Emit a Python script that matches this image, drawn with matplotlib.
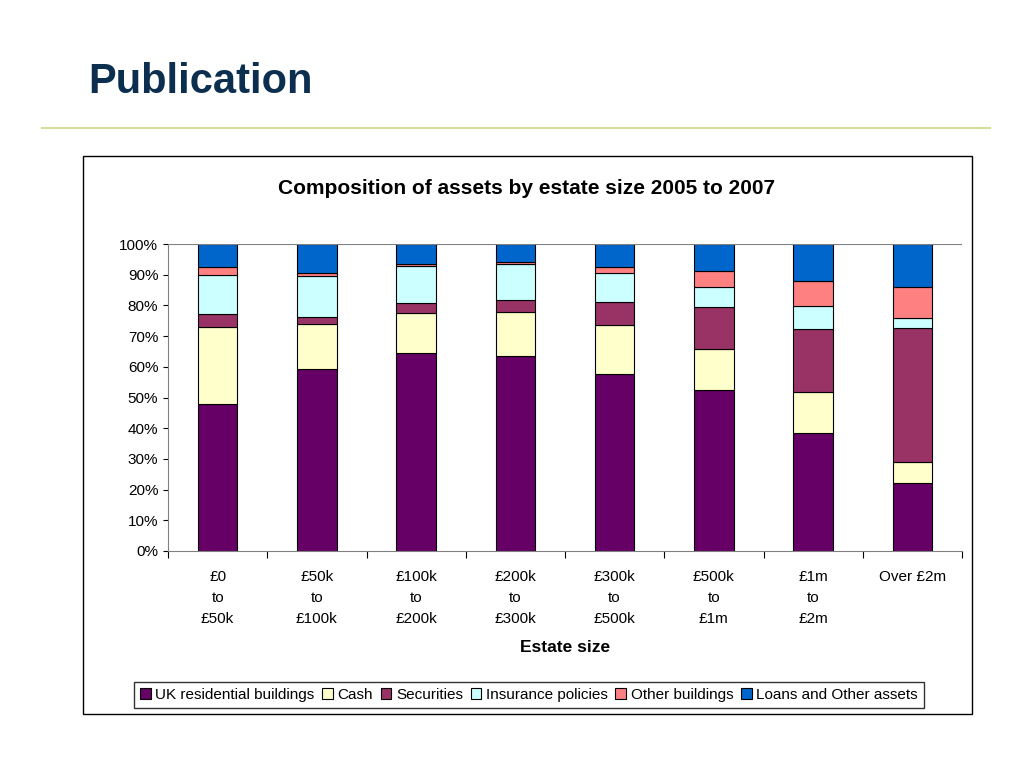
import matplotlib.pyplot as plt
import numpy as np
from matplotlib.patches import Rectangle
from matplotlib.lines import Line2D

plt.rcParams['font.family'] = ['Liberation Sans', 'DejaVu Sans']

categories = ["£0\nto\n£50k", "£50k\nto\n£100k", "£100k\nto\n£200k", "£200k\nto\n£300k",
              "£300k\nto\n£500k", "£500k\nto\n£1m", "£1m\nto\n£2m", "Over £2m"]
series = ["UK residential buildings", "Cash", "Securities", "Insurance policies",
          "Other buildings", "Loans and Other assets"]
uk = [47.9, 59.3, 64.5, 63.5, 57.7, 52.4, 38.4, 22.1]
cash = [25.1, 14.7, 13.0, 14.4, 15.9, 13.4, 13.4, 6.9]
securities = [4.2, 2.2, 3.3, 3.9, 7.5, 13.7, 20.5, 43.6]
insurance = [12.8, 13.4, 12.0, 11.7, 9.5, 6.5, 7.5, 3.3]
other_bld = [2.5, 1.0, 0.7, 0.6, 1.9, 5.2, 8.2, 10.1]
loans = [7.5, 9.4, 6.5, 5.9, 7.5, 8.8, 12.0, 14.0]
colors = ["#660066", "#FFFFCC", "#993366", "#CCFFFF", "#FF8080", "#0066CC"]

fig = plt.figure(figsize=(10.24, 7.68), dpi=100)
fig.text(88/1024, 1-82/768, "Publication", fontsize=30, fontweight="bold", color="#0D2F4F", va="center")
fig.add_artist(Line2D([42/1024, 990/1024], [1-128/768]*2, color="#D6DC9A", lw=1.5))
fig.add_artist(Rectangle((83/1024, 1-714/768), 889/1024, 558/768, fill=False, ec="black", lw=1))
fig.text(527/1024, 1-188/768, "Composition of assets by estate size 2005 to 2007", ha="center",
         va="center", fontsize=15, fontweight="bold")

ax = fig.add_axes([168/1024, 1-551/768, 794/1024, 307/768])
x = np.arange(len(categories))
bottom = np.zeros(len(categories))
data = [uk, cash, securities, insurance, other_bld, loans]
for vals, c, name in zip(data, colors, series):
    ax.bar(x, vals, 0.4, bottom=bottom, color=c, edgecolor="black", linewidth=0.8, label=name)
    bottom += np.array(vals)
ax.set_xlim(-0.5, 7.5)
ax.set_ylim(0, 100)
ax.set_yticks(range(0, 101, 10))
ax.set_yticklabels([f"{v}%" for v in range(0, 101, 10)], fontsize=11)
ax.set_xticks(np.arange(-0.5, 8, 1))
ax.set_xticklabels([])
ax.set_xticks(x, minor=True)
ax.set_xticklabels(categories, minor=True, fontsize=11, linespacing=1.6)
ax.tick_params(axis="x", which="minor", length=0, pad=14)
ax.tick_params(axis="x", which="major", length=5, direction="out")
for s in ["top", "right"]:
    ax.spines[s].set_visible(False)
ax.spines["left"].set_color("#808080")
ax.spines["bottom"].set_color("#808080")
ax.axhline(100, color="#808080", lw=0.8, xmin=0, xmax=1)
ax.set_xlabel("Estate size", fontsize=12.5, fontweight="bold", labelpad=10)
leg = fig.legend(loc="center", bbox_to_anchor=(529/1024, 1-695/768), ncol=6, fontsize=11,
                 handlelength=0.7, handleheight=0.7, handletextpad=0.3, columnspacing=0.5,
                 frameon=True, fancybox=False, edgecolor="black", borderpad=0.4)
fig.savefig("out.png", dpi=100)
